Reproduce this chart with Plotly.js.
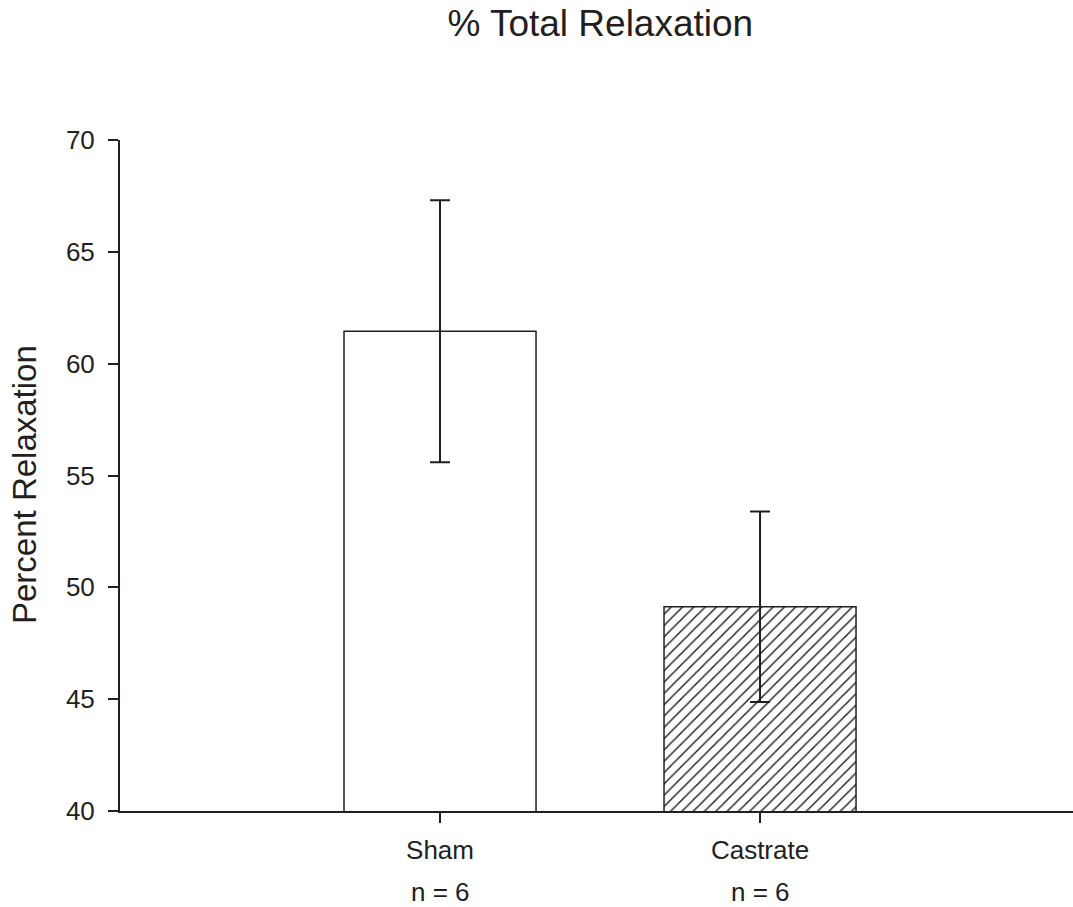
<!DOCTYPE html>
<html>
<head>
<meta charset="utf-8">
<script src="https://cdn.plot.ly/plotly-3.0.1.min.js"></script>
<style>html,body{margin:0;padding:0;background:#fff;}</style>
</head>
<body>
<div id="chart" style="width:1073px;height:907px;"></div>
<script>
// Data
const categories = ["Sham", "Castrate"];
const groupSizes = ["n = 6", "n = 6"];
const meanRelaxation = [61.45, 49.13];
const errorRelaxation = [5.86, 4.26];
const yTickValues = [40, 45, 50, 55, 60, 65, 70];
const yTitle = "Percent Relaxation";

const ink = "#231f20";
const font = "'Liberation Sans', Arial, sans-serif";

const traces = [
  {
    type: "bar",
    x: [categories[0]],
    y: [meanRelaxation[0]],
    width: 0.6,
    marker: { color: "#ffffff", line: { color: ink, width: 1.5 } },
    error_y: { type: "data", array: [errorRelaxation[0]], visible: true, color: ink, thickness: 2, width: 10 },
    showlegend: false,
    hoverinfo: "skip"
  },
  {
    type: "bar",
    x: [categories[1]],
    y: [meanRelaxation[1]],
    width: 0.6,
    marker: {
      color: "#ffffff",
      line: { color: ink, width: 1.5 },
      pattern: { shape: "/", fgcolor: ink, bgcolor: "#ffffff", size: 8, solidity: 0.18 }
    },
    error_y: { type: "data", array: [errorRelaxation[1]], visible: true, color: ink, thickness: 2, width: 10 },
    showlegend: false,
    hoverinfo: "skip"
  }
];

const annotations = categories.map((c, i) => ({
  x: c, xref: "x", y: -0.121, yref: "paper",
  text: groupSizes[i], showarrow: false,
  xanchor: "center", yanchor: "middle",
  font: { family: font, size: 26, color: ink }
}));
annotations.push({
  x: -0.1002, xref: "paper", y: 0.4866, yref: "paper",
  text: yTitle, textangle: -90, showarrow: false,
  xanchor: "center", yanchor: "middle",
  font: { family: font, size: 33, color: ink }
});

const layout = {
  width: 1073,
  height: 907,
  paper_bgcolor: "#ffffff",
  plot_bgcolor: "#ffffff",
  margin: { l: 120, r: 0, t: 140, b: 96, pad: 0 },
  font: { family: font, color: ink, size: 26 },
  title: {
    text: "% Total Relaxation",
    font: { family: font, size: 37, color: ink },
    xref: "paper", x: 0.504, xanchor: "center",
    yref: "container", y: 0.975, yanchor: "middle"
  },
  xaxis: {
    type: "category",
    categoryorder: "array",
    categoryarray: categories,
    range: [-1, 1.978],
    showline: true, linecolor: ink, linewidth: 2,
    ticks: "outside", ticklen: 10, tickwidth: 2, tickcolor: ink,
    showgrid: false, zeroline: false,
    tickfont: { family: font, size: 26, color: ink },
    ticklabelstandoff: 5,
    fixedrange: true
  },
  yaxis: {
    range: [40, 70],
    tickvals: yTickValues,
    ticktext: yTickValues.map(String),
    showline: true, linecolor: ink, linewidth: 2,
    ticks: "outside", ticklen: 10, tickwidth: 2, tickcolor: ink,
    showgrid: false, zeroline: false,
    tickfont: { family: font, size: 26, color: ink },
    ticklabelstandoff: 8,
    fixedrange: true
  },
  bargap: 0.4,
  annotations: annotations
};

Plotly.newPlot("chart", traces, layout, { displayModeBar: false, staticPlot: true });
</script>
</body>
</html>
